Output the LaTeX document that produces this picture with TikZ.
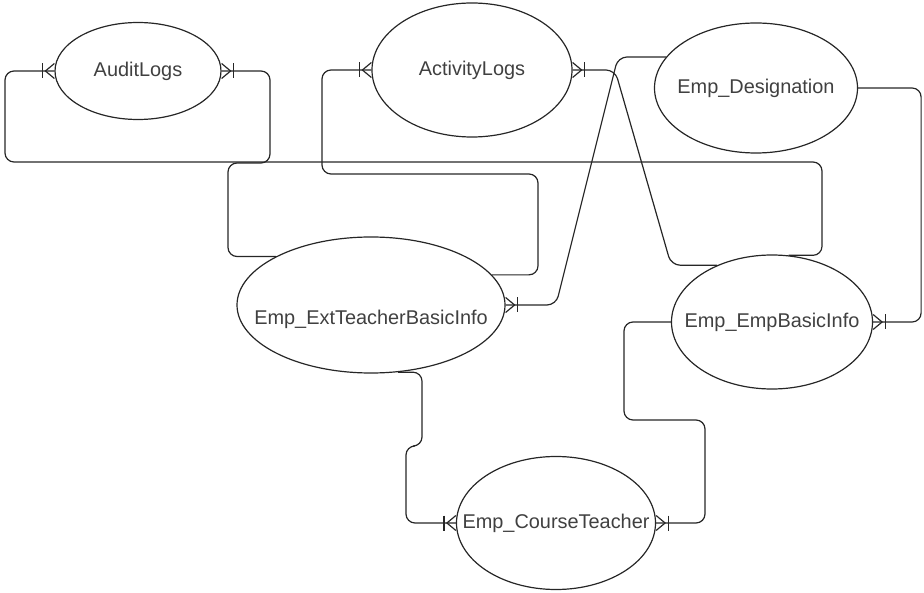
\documentclass[tikz,border=0pt]{standalone}
\usepackage{fontspec}
\setmainfont{Liberation Sans}
\usetikzlibrary{shapes.geometric}
\begin{document}
\begin{tikzpicture}[x=1pt,y=-1pt,
  entity/.style={draw=black!85,line width=1.2pt,ellipse,inner sep=0pt},
  lbl/.style={font=\fontsize{19.9}{23}\selectfont,text=black!75,inner sep=0pt},
  conn/.style={draw=black!85,line width=1.2pt,rounded corners=9pt},
  tip/.style={draw=black!85,line width=1.2pt},
  crowW/.pic={\draw[tip] (-12,-7.5) -- (-12,7.5);
              \draw[tip] (0,-7.5) -- (-9,0) -- (0,7.5);},
  crowE/.pic={\draw[tip] (12,-7.5) -- (12,7.5);
              \draw[tip] (0,-7.5) -- (9,0) -- (0,7.5);}]
\useasboundingbox (0,0) rectangle (924,593);

% entities
\node[entity,minimum width=166pt,minimum height=97pt,
      label={[lbl]center:AuditLogs}] (audit) at (138,71) {};
\node[entity,minimum width=200pt,minimum height=134pt,
      label={[lbl]center:ActivityLogs}] (activity) at (472,70) {};
\node[entity,minimum width=203pt,minimum height=130pt,
      label={[lbl]center:Emp\_Designation}] (desig) at (756,88) {};
\node[entity,minimum width=268pt,minimum height=136pt,
      label={[lbl,yshift=-14pt]center:Emp\_ExtTeacherBasicInfo}] (ext) at (371,305) {};
\node[entity,minimum width=201pt,minimum height=134pt,
      label={[lbl]center:Emp\_EmpBasicInfo}] (basic) at (772,322) {};
\node[entity,minimum width=199pt,minimum height=133pt,
      label={[lbl]center:Emp\_CourseTeacher}] (course) at (556,523) {};

% relationships
\draw[conn] (basic.76) -| (822,162) -- (5,162) |- (audit.west);
\draw[conn] (ext.153) -| (228,163) -| (270,71) -- (audit.east);
\draw[conn] (ext.14) -| (538,174) -| (322,70) -- (activity.west);
\draw[conn] (basic.134) -- ++(-46,0) -- (615,70) -- (activity.east);
\draw[conn] (desig.161) -- (618,57) -- (556,305) -- (ext.east);
\draw[conn] (desig.east) -- ++(63,0) |- (basic.east);
\draw[conn] (basic.west) -| (624,420) -| (705,523) -- (course.east);
\draw[conn] (ext.-68) -| (422,446) -| (406,523) -- (course.west);

% crow's foot ends
\pic at (audit.west) {crowW};
\pic at (audit.east) {crowE};
\pic at (activity.west) {crowW};
\pic at (activity.east) {crowE};
\pic at (ext.east) {crowE};
\pic at (basic.east) {crowE};
\pic at (course.west) {crowW};
\pic at (course.east) {crowE};
\end{tikzpicture}
\end{document}
